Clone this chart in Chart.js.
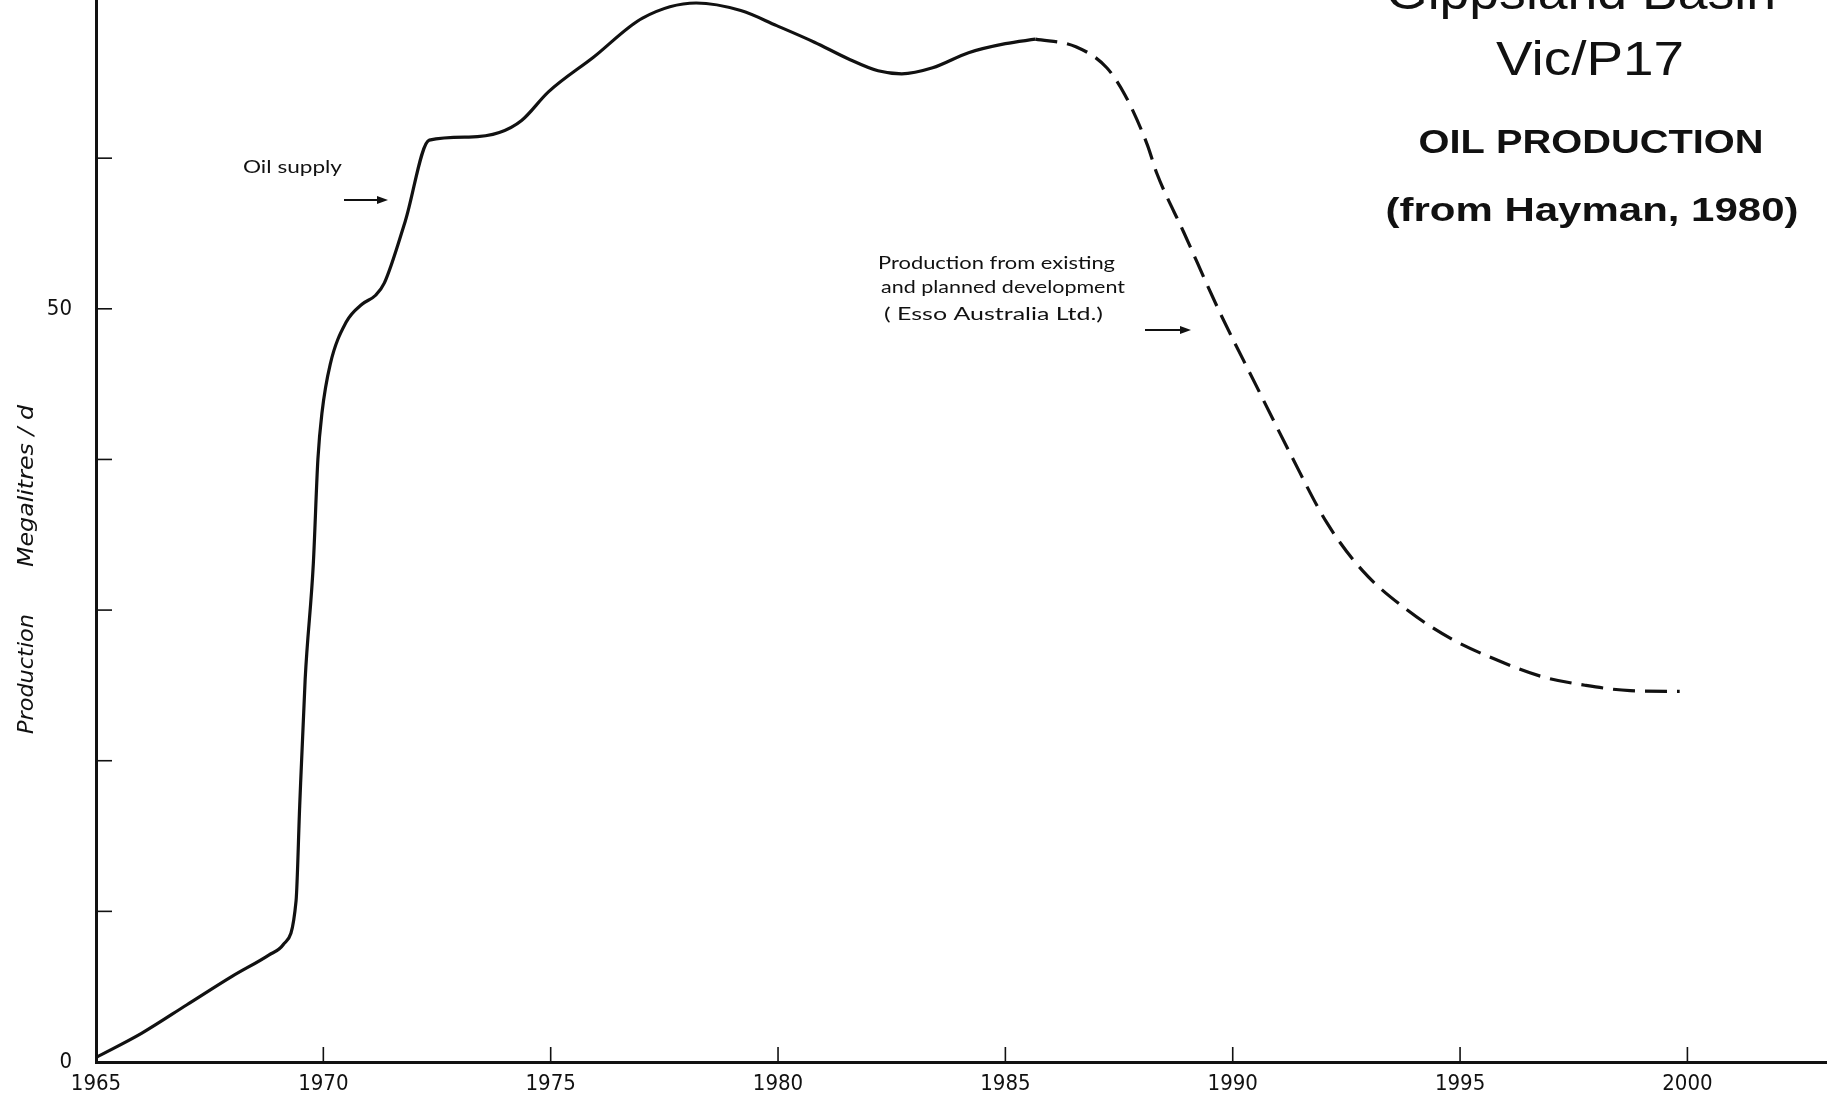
<!DOCTYPE html>
<html>
<head>
<meta charset="utf-8">
<script src="https://cdn.jsdelivr.net/npm/chart.js@4.4.1/dist/chart.umd.min.js"></script>
<style>
  html, body { margin: 0; padding: 0; background: #fff; }
  #wrap { width: 1827px; height: 1101px; position: relative; }
</style>
</head>
<body>
<div id="wrap"><canvas id="c" width="1827" height="1101"></canvas></div>
<script>
// ---- data ----
const solidYears  = [1965.0, 1966.0, 1967.0, 1968.0, 1968.8, 1969.12, 1969.40, 1969.48, 1969.60, 1969.78, 1969.88, 1969.97, 1970.15, 1970.5, 1970.85, 1971.15, 1971.34, 1971.8, 1972.33, 1973.2, 1973.87, 1974.36, 1974.95, 1975.94, 1977.02, 1978.2, 1979.18, 1979.97, 1980.8, 1981.54, 1982.2, 1982.72, 1983.4, 1984.19, 1985.0, 1985.66];
const solidValues = [0.3, 1.9, 3.8, 5.7, 7.1, 7.8, 10.7, 17.0, 25.4, 33.1, 40.0, 43.1, 46.3, 49.1, 50.3, 50.9, 51.7, 55.8, 61.2, 61.4, 61.7, 62.5, 64.4, 66.7, 69.3, 70.3, 69.8, 68.8, 67.7, 66.6, 65.8, 65.6, 66.0, 67.0, 67.6, 67.9];

const dashedYears  = [1985.66, 1986.55, 1987.23, 1987.63, 1988.12, 1988.33, 1988.92, 1989.71, 1990.5, 1991.28, 1992.07, 1992.86, 1993.84, 1994.8, 1995.8, 1996.78, 1997.77, 1998.74, 1999.83];
const dashedValues = [67.9, 67.4, 66.0, 64.2, 60.9, 59.0, 55.1, 49.8, 45.0, 40.3, 35.8, 32.6, 30.0, 28.1, 26.7, 25.6, 25.0, 24.65, 24.6];

const xTickValues = [1965, 1970, 1975, 1980, 1985, 1990, 1995, 2000];
const xTickMarks  = [1970, 1975, 1980, 1985, 1990, 1995, 2000];
const yTickValues = [0, 10, 20, 30, 40, 50, 60];
const yTickLabels = {0: '0', 50: '50'};
const yTickMarks  = [10, 20, 30, 40, 50, 60];

const titleLines = ['Gippsland Basin', 'Vic/P17', 'OIL PRODUCTION', '(from Hayman, 1980)'];
const yTitleParts = ['Production', 'Megalitres / d'];
const noteSupply = 'Oil supply';
const noteEsso = ['Production from existing', 'and planned development', '( Esso Australia Ltd.)'];

const INK = '#111';
const tickFont = "'DejaVu Sans Condensed', 'Liberation Sans Narrow', 'Liberation Sans', sans-serif";

function drawFit(ctx, text, x, y, width, font, align) {
  ctx.save();
  ctx.font = font;
  const w = ctx.measureText(text).width;
  const s = width / w;
  let x0 = x;
  if (align === 'center') x0 = x - width / 2;
  ctx.translate(x0, y);
  ctx.scale(s, 1);
  ctx.textAlign = 'left';
  ctx.textBaseline = 'alphabetic';
  ctx.fillText(text, 0, 0);
  ctx.restore();
}

function arrow(ctx, x1, x2, y) {
  ctx.beginPath();
  ctx.moveTo(x1, y); ctx.lineTo(x2 - 8, y);
  ctx.lineWidth = 1.8; ctx.stroke();
  ctx.beginPath();
  ctx.moveTo(x2, y); ctx.lineTo(x2 - 11, y - 4); ctx.lineTo(x2 - 11, y + 4); ctx.closePath();
  ctx.fill();
}

const annotate = {
  id: 'annotate',
  afterDraw(chart) {
    const { ctx, scales: { x, y } } = chart;
    ctx.save();
    ctx.strokeStyle = INK; ctx.fillStyle = INK; ctx.lineWidth = 1.6;
    // inward tick marks
    xTickMarks.forEach(v => {
      const px = x.getPixelForValue(v);
      ctx.beginPath(); ctx.moveTo(px, y.bottom); ctx.lineTo(px, y.bottom - 15); ctx.stroke();
    });
    yTickMarks.forEach(v => {
      const py = y.getPixelForValue(v);
      ctx.beginPath(); ctx.moveTo(x.left, py); ctx.lineTo(x.left + 16, py); ctx.stroke();
    });

    // title block
    drawFit(ctx, titleLines[0], 1581, 9, 390, "50px 'Liberation Sans', Arial, sans-serif", 'center');
    drawFit(ctx, titleLines[1], 1590, 75, 188, "48px 'Liberation Sans', Arial, sans-serif", 'center');
    drawFit(ctx, titleLines[2], 1591, 153, 345, "bold 34px 'Liberation Sans', Arial, sans-serif", 'center');
    drawFit(ctx, titleLines[3], 1592, 221, 413, "bold 34px 'Liberation Sans', Arial, sans-serif", 'center');

    // annotations
    const noteFont = "17px Lato, 'Open Sans', sans-serif";
    drawFit(ctx, noteSupply, 243, 173, 99, noteFont, 'left');
    arrow(ctx, 344, 388, 200);
    drawFit(ctx, noteEsso[0], 878, 269, 237, noteFont, 'left');
    drawFit(ctx, noteEsso[1], 881, 293, 244, noteFont, 'left');
    drawFit(ctx, noteEsso[2], 884, 320, 219, noteFont, 'left');
    arrow(ctx, 1145, 1191, 330);

    // y-axis title (rotated)
    const yFont = "italic 22px 'DejaVu Sans', sans-serif";
    [[yTitleParts[0], 674, 120], [yTitleParts[1], 486, 162]].forEach(([t, cy, len]) => {
      ctx.save();
      ctx.translate(33, cy);
      ctx.rotate(-Math.PI / 2);
      drawFit(ctx, t, 0, 0, len, yFont, 'center');
      ctx.restore();
    });
    ctx.restore();
  }
};

new Chart(document.getElementById('c'), {
  type: 'line',
  data: {
    datasets: [
      {
        label: 'Oil supply',
        data: solidYears.map((yr, i) => ({ x: yr, y: solidValues[i] })),
        borderColor: INK, borderWidth: 3.2, pointRadius: 0, fill: false,
        cubicInterpolationMode: 'monotone'
      },
      {
        label: 'Production from existing and planned development',
        data: dashedYears.map((yr, i) => ({ x: yr, y: dashedValues[i] })),
        borderColor: INK, borderWidth: 3.2, borderDash: [22, 10], pointRadius: 0, fill: false,
        cubicInterpolationMode: 'monotone'
      }
    ]
  },
  options: {
    responsive: false,
    animation: false,
    devicePixelRatio: 1,
    layout: { padding: 0 },
    plugins: { legend: { display: false }, tooltip: { enabled: false }, title: { display: false } },
    scales: {
      x: {
        type: 'linear', min: 1965, max: 2003.07,
        afterBuildTicks: s => { s.ticks = xTickValues.map(v => ({ value: v })); },
        afterFit: s => { s.height = 39; s.paddingLeft = 0; s.paddingRight = 0; },
        grid: { display: true, drawOnChartArea: false, drawTicks: false },
        border: { display: true, color: INK, width: 3 },
        ticks: {
          color: INK, padding: 9, maxRotation: 0, autoSkip: false,
          font: { family: tickFont, size: 22 },
          callback: v => String(v)
        }
      },
      y: {
        type: 'linear', min: 0, max: 70.5,
        afterBuildTicks: s => { s.ticks = yTickValues.map(v => ({ value: v })); },
        afterFit: s => { s.width = 96; s.paddingTop = 0; s.paddingBottom = 0; },
        grid: { display: true, drawOnChartArea: false, drawTicks: false },
        border: { display: true, color: INK, width: 3 },
        ticks: {
          color: INK, padding: 24, autoSkip: false,
          font: { family: tickFont, size: 22 },
          callback: v => (yTickLabels[v] !== undefined ? yTickLabels[v] : '')
        }
      }
    }
  },
  plugins: [annotate]
});
</script>
</body>
</html>
